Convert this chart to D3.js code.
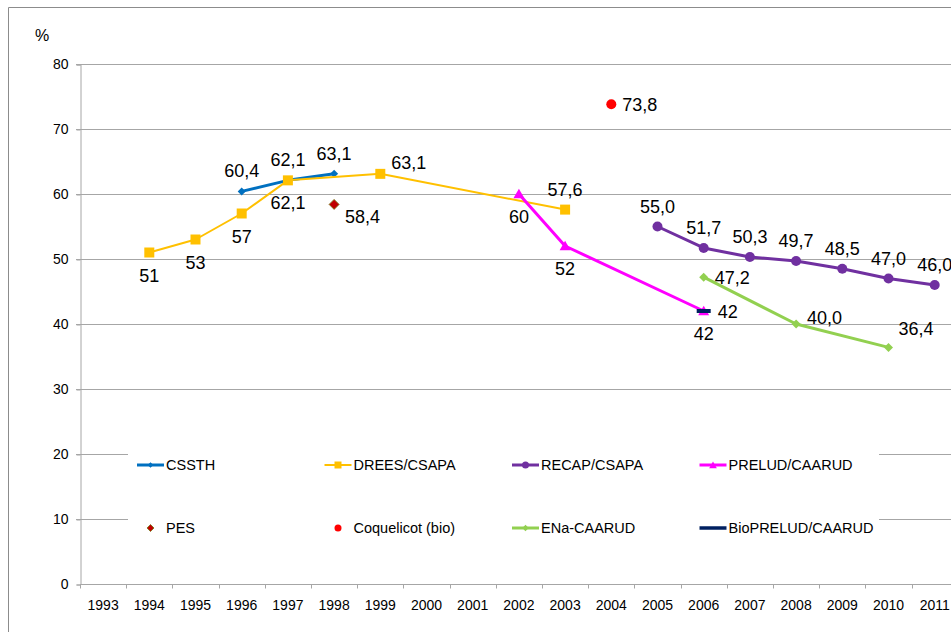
<!DOCTYPE html>
<html>
<head>
<meta charset="utf-8">
<script src="https://cdn.jsdelivr.net/npm/d3@7"></script>
<style>
  body { margin: 0; background: #fff; }
  svg { display: block; font-family: "Liberation Sans", Arial, sans-serif; }
</style>
</head>
<body>
<div class="main"></div>
<script>
// Données du graphique
const years = ['1993', '1994', '1995', '1996', '1997', '1998', '1999', '2000', '2001', '2002',
  '2003', '2004', '2005', '2006', '2007', '2008', '2009', '2010', '2011'];
const yTicks = [0, 10, 20, 30, 40, 50, 60, 70, 80];

const cssthYears = ['1996', '1997', '1998'];
const cssthValues = [60.4, 62.1, 63.1];
const cssthPos = ['above', 'above', 'above'];

const dreesYears = ['1994', '1995', '1996', '1997', '1999', '2003'];
const dreesValues = [51, 53, 57, 62.1, 63.1, 57.6];
const dreesPos = ['below', 'below', 'below', 'below', 'rightUp', 'above'];

const recapYears = ['2005', '2006', '2007', '2008', '2009', '2010', '2011'];
const recapValues = [55.0, 51.7, 50.3, 49.7, 48.5, 47.0, 46.0];
const recapPos = ['above', 'above', 'above', 'above', 'above', 'above', 'above'];

const preludYears = ['2002', '2003', '2006'];
const preludValues = [60, 52, 42];
const preludPos = ['below', 'below', 'below'];

const pesYears = ['1998'];
const pesValues = [58.4];
const pesPos = ['rightDown'];

const coqYears = ['2004'];
const coqValues = [73.8];
const coqPos = ['right'];

const enaYears = ['2006', '2008', '2010'];
const enaValues = [47.2, 40.0, 36.4];
const enaPos = ['right', 'rightUpSmall', 'rightUpBig'];

const bioYears = ['2006'];
const bioValues = [42];
const bioPos = ['rightFar'];

// Paramètres de la visualisation
const width = 951;
const height = 632;
const margin = { top: 64, left: 80, bottom: 48 };
const band = 46.2;

const comma = d => String(d).replace('.', ',');
const comma1 = d => d3.format('.1f')(d).replace('.', ',');

const series = [
  { name: 'CSSTH', years: cssthYears, values: cssthValues, pos: cssthPos, color: '#0070C0', lw: 3, marker: 'diamond', size: 8, fmt: comma, line: true },
  { name: 'DREES/CSAPA', years: dreesYears, values: dreesValues, pos: dreesPos, color: '#FFC000', lw: 2, marker: 'square', size: 10, fmt: comma, line: true },
  { name: 'RECAP/CSAPA', years: recapYears, values: recapValues, pos: recapPos, color: '#7030A0', lw: 3, marker: 'circle', size: 10, fmt: comma1, line: true },
  { name: 'PRELUD/CAARUD', years: preludYears, values: preludValues, pos: preludPos, color: '#FF00FF', lw: 3, marker: 'triangle', size: 11, fmt: comma, line: true },
  { name: 'PES', years: pesYears, values: pesValues, pos: pesPos, color: '#C00000', lw: 0, marker: 'diamond', size: 10, fmt: comma, line: false, outline: '#7a7a1a' },
  { name: 'Coquelicot (bio)', years: coqYears, values: coqValues, pos: coqPos, color: '#FF0000', lw: 0, marker: 'circle', size: 10, fmt: comma, line: false },
  { name: 'ENa-CAARUD', years: enaYears, values: enaValues, pos: enaPos, color: '#92D050', lw: 3, marker: 'diamond', size: 9, fmt: comma1, line: true },
  { name: 'BioPRELUD/CAARUD', years: bioYears, values: bioValues, pos: bioPos, color: '#002060', lw: 3.5, marker: 'dash', size: 14, fmt: comma, line: true }
];

// position des étiquettes : décalage par rapport au point
const placement = {
  above: { dx: 0, dy: -14, anchor: 'middle' },
  below: { dx: 0, dy: 29, anchor: 'middle' },
  right: { dx: 11, dy: 7, anchor: 'start' },
  rightFar: { dx: 14, dy: 7, anchor: 'start' },
  rightUp: { dx: 11, dy: -5, anchor: 'start' },
  rightDown: { dx: 11, dy: 19, anchor: 'start' },
  rightUpSmall: { dx: 11, dy: 0, anchor: 'start' },
  rightUpBig: { dx: 10, dy: -12, anchor: 'start' }
};

const svg = d3.select('.main')
  .append('svg')
  .attr('width', width)
  .attr('height', height);

// cadre
svg.append('path')
  .attr('d', `M8.5,${height} V7.5 H${width}`)
  .attr('fill', 'none')
  .attr('stroke', '#8c8c8c');

const x = d3.scaleBand()
  .domain(years)
  .range([margin.left, margin.left + band * years.length])
  .padding(0);

const y = d3.scaleLinear()
  .domain([0, 80])
  .range([height - margin.bottom, margin.top]);

// grille
svg.append('g')
  .selectAll('line')
  .data(yTicks.filter(d => d > 0))
  .enter()
  .append('line')
  .attr('x1', margin.left - 4)
  .attr('x2', width)
  .attr('y1', d => Math.round(y(d)) + 0.5)
  .attr('y2', d => Math.round(y(d)) + 0.5)
  .attr('stroke', '#a6a6a6');

// axe vertical
svg.append('g')
  .attr('transform', `translate(${margin.left + 0.5}, 0.5)`)
  .call(d3.axisLeft(y).tickValues(yTicks).tickSize(4).tickPadding(8))
  .call(g => g.select('.domain').attr('stroke', '#a6a6a6'))
  .call(g => g.selectAll('.tick line').attr('stroke', '#a6a6a6'))
  .call(g => g.selectAll('.tick text').attr('font-size', 14).attr('fill', '#000').attr('font-family', null));

// axe horizontal
const xAxis = svg.append('g')
  .attr('transform', `translate(0, ${Math.round(y(0)) + 0.5})`);
xAxis.append('line')
  .attr('x1', margin.left).attr('x2', width)
  .attr('stroke', '#a6a6a6');
xAxis.selectAll('.bound')
  .data(years)
  .enter()
  .append('line')
  .attr('x1', d => Math.round(x(d)) + 0.5)
  .attr('x2', d => Math.round(x(d)) + 0.5)
  .attr('y1', 0).attr('y2', 4)
  .attr('stroke', '#a6a6a6');
xAxis.call(d3.axisBottom(x).tickSize(0).tickPadding(16))
  .call(g => g.select('.domain').remove())
  .call(g => g.selectAll('.tick text').attr('font-size', 14).attr('fill', '#000').attr('font-family', null));

// unité
svg.append('text')
  .attr('x', 35).attr('y', 41)
  .attr('font-size', 16)
  .text('%');

const cx = yr => x(yr) + x.bandwidth() / 2;

function marker(g, type, size, color, outline) {
  if (type === 'dash') {
    return g.append('rect')
      .attr('x', -size / 2).attr('y', -2)
      .attr('width', size).attr('height', 4)
      .attr('fill', color);
  }
  let p;
  if (type === 'diamond') {
    const side = size / Math.SQRT2;
    p = g.append('path').attr('d', d3.symbol(d3.symbolSquare, side * side)()).attr('transform', 'rotate(45)');
  } else if (type === 'square') {
    p = g.append('path').attr('d', d3.symbol(d3.symbolSquare, size * size)());
  } else if (type === 'circle') {
    p = g.append('path').attr('d', d3.symbol(d3.symbolCircle, Math.PI * size * size / 4)());
  } else {
    p = g.append('path').attr('d', d3.symbol(d3.symbolTriangle, size * size * 0.43)()).attr('transform', 'translate(0,1)');
  }
  p.attr('fill', color);
  if (outline) p.attr('stroke', outline).attr('stroke-width', 0.8);
  return p;
}

// séries
series.forEach(s => {
  const pts = s.years.map((yr, i) => ({ yr, v: s.values[i], pos: s.pos[i] }));
  const g = svg.append('g');
  if (s.line && pts.length > 1) {
    g.append('path')
      .datum(pts)
      .attr('fill', 'none')
      .attr('stroke', s.color)
      .attr('stroke-width', s.lw)
      .attr('stroke-linejoin', 'round')
      .attr('d', d3.line().x(d => cx(d.yr)).y(d => y(d.v)));
  }
  pts.forEach(d => {
    const m = g.append('g').attr('transform', `translate(${cx(d.yr)}, ${y(d.v)})`);
    marker(m, s.marker, s.size, s.color, s.outline);
  });
});

// étiquettes des valeurs
series.forEach(s => {
  const pts = s.years.map((yr, i) => ({ yr, v: s.values[i], pos: s.pos[i] }));
  svg.append('g')
    .selectAll('text')
    .data(pts)
    .enter()
    .append('text')
    .attr('x', d => cx(d.yr) + placement[d.pos].dx)
    .attr('y', d => y(d.v) + placement[d.pos].dy)
    .attr('text-anchor', d => placement[d.pos].anchor)
    .attr('font-size', 18)
    .attr('fill', '#000')
    .text(d => s.fmt(d.v));
});

// légende
const legend = svg.append('g');
legend.append('rect')
  .attr('x', 128).attr('y', 440)
  .attr('width', 751).attr('height', 105)
  .attr('fill', '#fff');

const item = legend.selectAll('.item')
  .data(series)
  .enter()
  .append('g')
  .attr('transform', (d, i) => `translate(${137 + (i % 4) * 187.5}, ${465 + Math.floor(i / 4) * 63})`);

item.each(function (s) {
  const g = d3.select(this);
  if (s.line) {
    g.append('line')
      .attr('x1', 0).attr('x2', 27)
      .attr('stroke', s.color)
      .attr('stroke-width', s.lw);
  }
  if (s.marker !== 'dash') {
    const m = g.append('g').attr('transform', 'translate(13.5, 0)');
    marker(m, s.marker, s.size * 0.7, s.color, s.outline);
  }
  g.append('text')
    .attr('x', 29).attr('y', 5)
    .attr('font-size', 14.5)
    .attr('fill', '#000')
    .text(s.name);
});
</script>
</body>
</html>
